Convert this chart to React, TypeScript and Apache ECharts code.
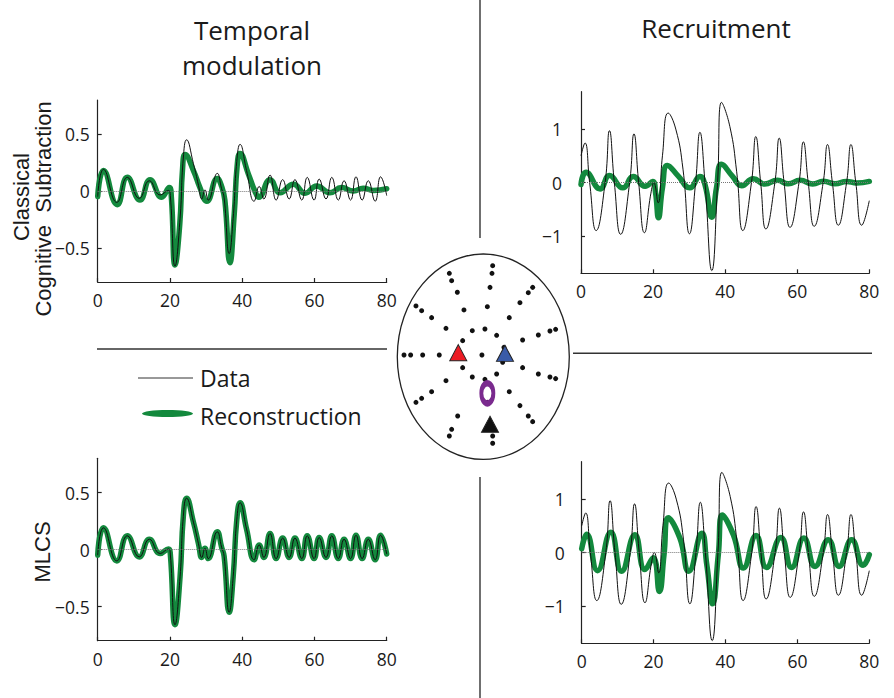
import React, { useEffect, useRef } from "react";
import * as echarts from "echarts";

// ---------- data ----------
const xTicks = [0, 20, 40, 60, 80];
const temporalTicks = [-0.5, 0, 0.5];
const recruitTicks = [-1, 0, 1];

// Temporal modulation: measured data (same in both rows)
const temporalData: number[][] = [
  [0, -0.05], [1.6, 0.19], [5.3, -0.1], [8.2, 0.12], [11.5, -0.065], [14.3, 0.09],
  [17.3, -0.035], [19.6, 0.005], [20.1, -0.04], [21.4, -0.66], [22.8, -0.24], [23.7, 0.29],
  [24.6, 0.45], [26.5, 0.24], [27.9, 0.05], [28.8, -0.07], [29.7, 0.01], [30.6, -0.08],
  [33.1, 0.155], [34.3, 0.02], [35, -0.06], [36.4, -0.55], [37.5, -0.24], [38.5, 0.26],
  [39.4, 0.41], [41.2, 0.18], [43.3, -0.09], [44.7, 0.04], [46, -0.07], [47.7, 0.14],
  [49.4, -0.08], [51.2, 0.1], [53, -0.07], [54.6, 0.1], [56.5, -0.08], [58, 0.12],
  [59.9, -0.08], [61.3, 0.105], [63.2, -0.07], [64.8, 0.12], [66.6, -0.08], [68.2, 0.09],
  [70, -0.08], [71.5, 0.125], [73.2, -0.08], [74.9, 0.09], [76.8, -0.09], [78.3, 0.125],
  [80, -0.04],
];

// Temporal modulation: Classical Cognitive Subtraction reconstruction
const temporalReconCCS: number[][] = [
  [0, -0.05], [1.6, 0.18], [5.4, -0.12], [8.2, 0.12], [11.7, -0.08], [14.5, 0.1],
  [17.7, -0.055], [19.8, 0.03], [20.4, -0.06], [21.4, -0.65], [22.7, -0.3], [23.5, 0.2],
  [24.2, 0.32], [26.5, 0.18], [28.3, 0.03], [30.2, -0.09], [33.1, 0.11], [34.3, 0.04],
  [35.2, -0.08], [36.6, -0.63], [37.8, -0.2], [38.6, 0.22], [39.4, 0.33], [41.7, 0.15],
  [43.5, 0.0], [44.6, -0.055], [47.7, 0.1], [50.5, -0.015], [54.2, 0.06], [57.4, -0.02],
  [60.6, 0.045], [64.3, -0.015], [67.5, 0.03], [70.8, 0.0], [73.5, 0.025], [76.3, 0.005],
  [80, 0.02],
];

// Temporal modulation: MLCS reconstruction (coincides with the data)
const temporalReconMLCS: number[][] = temporalData;

// Recruitment: measured data (same in both rows)
const recruitData: number[][] = [
  [0, 0.5], [1.1, 0.74], [2.4, 0], [4.2, -0.9], [6.7, 0], [7.9, 0.97], [9.25, 0],
  [11, -0.97], [13.5, 0], [14.7, 0.91], [16, 0], [17.6, -0.94], [19.4, -0.2], [20.2, 0],
  [21.4, -0.38], [22.6, 0.5], [24.2, 1.3], [26.3, 1.0], [28.3, 0.25], [30.1, -0.96],
  [31.8, 0], [33, 0.94], [34.4, 0], [36.3, -1.65], [37.9, 0], [39, 1.5], [41.3, 1.05],
  [43.2, 0.2], [44.9, -0.9], [47.3, 0], [48.5, 0.86], [49.85, 0], [51.3, -0.87], [53.8, 0],
  [55, 0.83], [56.35, 0], [58, -0.84], [60.5, 0], [61.7, 0.76], [63.05, 0], [64.7, -0.82],
  [67.2, 0], [68.4, 0.71], [69.75, 0], [71.4, -0.8], [73.7, 0], [74.9, 0.71], [76.25, 0],
  [77.9, -0.8], [80, -0.34],
];

// Recruitment: Classical Cognitive Subtraction reconstruction
const recruitReconCCS: number[][] = [
  [0, -0.04], [1.4, 0.19], [5.3, -0.12], [7.9, 0.13], [11.6, -0.1], [14.5, 0.11],
  [17.8, -0.07], [19.9, 0.02], [20.7, -0.2], [21.5, -0.66], [22.6, -0.1], [24, 0.32],
  [27, 0.12], [30.2, -0.1], [33, 0.11], [34.4, -0.04], [36.3, -0.65], [37.6, -0.1],
  [39, 0.34], [42, 0.12], [44.6, -0.06], [47.8, 0.07], [51, -0.03], [54.5, 0.04],
  [57.5, -0.025], [60.8, 0.04], [64.3, -0.03], [67.3, 0.025], [70.5, -0.025], [73.7, 0.02],
  [76.5, -0.01], [80, 0.02],
];

// Recruitment: MLCS reconstruction
const recruitReconMLCS: number[][] = [
  [0, 0.07], [1.4, 0.34], [4.4, -0.34], [8.1, 0.38], [11.1, -0.35], [14.8, 0.33],
  [17.6, -0.32], [19.9, -0.1], [21.6, -0.73], [22.9, -0.04], [24.1, 0.65], [27.3, 0.27],
  [29.8, -0.35], [33.4, 0.36], [34.8, -0.23], [36.4, -0.96], [38, -0.04], [39.1, 0.7],
  [42.2, 0.33], [45, -0.29], [48.5, 0.32], [51.4, -0.28], [55.4, 0.28], [58.4, -0.28],
  [61.8, 0.27], [64.9, -0.26], [68.6, 0.24], [71.6, -0.26], [75.1, 0.24], [78.3, -0.24],
  [80, -0.04],
];

// Scalp map (normalised head coordinates, -1..1)
const electrodes: number[][] = [
  [0.109, 0.886], [0.101, 0.812], [0.078, 0.675], [0.047, 0.487], [0.019, 0.269], [-0.016, 0.016],
  [-0.395, 0.812], [-0.368, 0.74], [-0.302, 0.627], [-0.225, 0.455], [-0.128, 0.253],
  [0.574, 0.675], [0.523, 0.623], [0.426, 0.526], [0.302, 0.38], [0.155, 0.208],
  [-0.783, 0.494], [-0.717, 0.448], [-0.601, 0.38], [-0.434, 0.276], [-0.24, 0.156],
  [0.841, 0.266], [0.775, 0.25], [0.64, 0.211], [0.457, 0.162],
  [-0.922, 0.016], [-0.845, 0.016], [-0.705, 0.016], [-0.512, 0.016],
  [0.24, 0.091], [0.225, -0.055], [-0.24, -0.107], [-0.128, -0.198], [0.019, -0.221], [0.155, -0.169],
  [0.457, -0.107], [0.64, -0.169], [0.775, -0.198], [0.841, -0.214],
  [-0.434, -0.234], [-0.601, -0.341], [-0.717, -0.406], [-0.783, -0.445],
  [0.302, -0.341], [0.047, -0.445], [0.426, -0.477], [0.523, -0.578], [0.574, -0.633],
  [-0.298, -0.578], [-0.368, -0.708], [-0.395, -0.773], [0.109, -0.773], [0.109, -0.844],
];
const redSource: number[][] = [[-0.291, 0.039]];
const blueSource: number[][] = [[0.252, 0.032]];
const blackSource: number[][] = [[0.078, -0.659]];
const purpleSource: number[][] = [[0.047, -0.357]];

// ---------- styling ----------
const TICK_FONT = "'Open Sans', 'Noto Sans', sans-serif";
const LABEL_FONT = "'Liberation Sans', Arial, sans-serif";
const GREEN = "#13893d";
const AXIS_COLOR = "#222";

const panels = [
  { left: 97.7, top: 100, width: 289, height: 182, yMin: -0.8, yMax: 0.8, ticks: temporalTicks, yMargin: 8, data: temporalData, recon: temporalReconCCS },
  { left: 581, top: 91.7, width: 288.3, height: 181.6, yMin: -1.7, yMax: 1.7, ticks: recruitTicks, yMargin: 19, data: recruitData, recon: recruitReconCCS },
  { left: 97.7, top: 458.3, width: 289, height: 182.4, yMin: -0.8, yMax: 0.8, ticks: temporalTicks, yMargin: 8, data: temporalData, recon: temporalReconMLCS },
  { left: 581.7, top: 461.7, width: 287.6, height: 181.6, yMin: -1.7, yMax: 1.7, ticks: recruitTicks, yMargin: 17, data: recruitData, recon: recruitReconMLCS },
];

const fmt = (v: number) => String(v).replace("-", "\u2212");

function buildOption(): echarts.EChartsOption {
  const grid: any[] = panels.map((p) => ({ left: p.left, top: p.top, width: p.width, height: p.height }));
  grid.push({ left: 397.3, top: 254, width: 172, height: 205.3 });

  const lineStyle = { color: AXIS_COLOR, width: 1.2 };
  const xAxis: any[] = panels.map((_, i) => ({
    type: "value", gridIndex: i, min: xTicks[0], max: xTicks[xTicks.length - 1], interval: 20,
    axisLine: { show: true, onZero: false, lineStyle },
    axisTick: { show: true, inside: true, length: 4, lineStyle },
    axisLabel: { fontSize: 17.5, fontFamily: TICK_FONT, color: "#1a1a1a", margin: 9 },
    splitLine: { show: false },
  }));
  xAxis.push({ type: "value", gridIndex: 4, min: -1, max: 1, show: false });

  const yAxis: any[] = panels.map((p, i) => ({
    type: "value", gridIndex: i, min: p.yMin, max: p.yMax,
    axisLine: { show: true, onZero: false, lineStyle },
    axisTick: { show: true, inside: true, length: 4, lineStyle, customValues: p.ticks },
    axisLabel: { fontSize: 17.5, fontFamily: TICK_FONT, color: "#1a1a1a", margin: p.yMargin, customValues: p.ticks, formatter: (v: number) => fmt(v) },
    splitLine: { show: false },
  }));
  yAxis.push({ type: "value", gridIndex: 4, min: -1, max: 1, show: false });

  const series: any[] = [];
  panels.forEach((p, i) => {
    series.push({
      type: "line", name: "Reconstruction", xAxisIndex: i, yAxisIndex: i, data: p.recon,
      smooth: 0.5, showSymbol: false, z: 2,
      lineStyle: { color: GREEN, width: 5.5, cap: "round", join: "round" },
    });
    series.push({
      type: "line", name: "Data", xAxisIndex: i, yAxisIndex: i, data: p.data,
      smooth: 0.5, showSymbol: false, z: 3,
      lineStyle: { color: "#111", width: 1 },
      markLine: {
        silent: true, symbol: ["none", "none"], label: { show: false },
        lineStyle: { type: "dotted", color: "#777", width: 1 },
        data: [{ yAxis: 0 }],
      },
    });
  });

  series.push({
    type: "scatter", xAxisIndex: 4, yAxisIndex: 4, data: electrodes, symbolSize: 5,
    itemStyle: { color: "#111", opacity: 1 }, z: 3,
  });
  const tri = (data: number[][], color: string) => ({
    type: "scatter", xAxisIndex: 4, yAxisIndex: 4, data, symbol: "triangle", symbolSize: [17, 16],
    itemStyle: { color, borderColor: "#222", borderWidth: 1, opacity: 1 }, z: 4,
  });
  series.push(tri(redSource, "#ec1c24"));
  series.push(tri(blueSource, "#3a5ba8"));
  series.push(tri(blackSource, "#111"));
  series.push({
    type: "scatter", xAxisIndex: 4, yAxisIndex: 4, data: purpleSource, symbol: "circle", symbolSize: [12, 20],
    itemStyle: { color: "rgba(0,0,0,0)", borderColor: "#7a2a8e", borderWidth: 5, opacity: 1 }, z: 4,
  });

  const text = (t: string, x: number, y: number, size: number, family: string, align = "center", rotation = 0) => ({
    type: "text", x, y, rotation, silent: true,
    style: {
      text: t, fontSize: size, fontFamily: family, fill: "#1a1a1a",
      align, verticalAlign: "middle", textAlign: align, textVerticalAlign: "middle",
    },
  });
  const seg = (x1: number, y1: number, x2: number, y2: number, w = 1.4) => ({
    type: "line", silent: true, shape: { x1, y1, x2, y2 }, style: { stroke: "#333", lineWidth: w },
  });

  const graphic: any[] = [
    seg(480, 0, 480, 238),
    seg(480, 477, 480, 698),
    seg(97, 349, 387, 349),
    seg(573, 353.3, 872, 353.3),
    { type: "ellipse", silent: true, shape: { cx: 483.3, cy: 356.7, rx: 86, ry: 102.7 }, style: { fill: "none", stroke: "#222", lineWidth: 1.3 } },
    text("Temporal", 252, 30, 26, TICK_FONT),
    text("modulation", 252, 65, 26, TICK_FONT),
    text("Recruitment", 716, 28, 26, TICK_FONT),
    text("Classical", 21, 197, 22, LABEL_FONT, "center", Math.PI / 2),
    text("Cognitive  Subtraction", 43, 209, 22, LABEL_FONT, "center", Math.PI / 2),
    text("MLCS", 42, 552, 22, LABEL_FONT, "center", Math.PI / 2),
    seg(138, 378, 193, 378, 1),
    { type: "ellipse", silent: true, shape: { cx: 167.5, cy: 413.5, rx: 25.5, ry: 3.6 }, style: { fill: GREEN, stroke: "none" } },
    text("Data", 200, 378, 23, TICK_FONT, "left"),
    text("Reconstruction", 200, 416, 23, TICK_FONT, "left"),
  ];

  return { animation: false, backgroundColor: "#fff", grid, xAxis, yAxis, series, graphic };
}

export default function App() {
  const ref = useRef<HTMLDivElement>(null);
  useEffect(() => {
    if (!ref.current) return;
    const chart = echarts.init(ref.current, undefined, { renderer: "svg" });
    chart.setOption(buildOption());
    return () => chart.dispose();
  }, []);
  return (
    <div
      ref={ref}
      style={{ position: "fixed", left: 0, top: 0, width: 894, height: 698, background: "#fff" }}
    />
  );
}
